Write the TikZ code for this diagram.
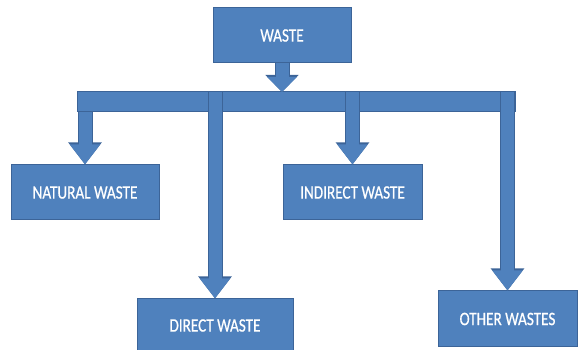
\documentclass[tikz,border=0pt]{standalone}
\usepackage{fontspec}
\newfontfamily\wastefont[FakeStretch=0.8,FakeBold=0.6]{Carlito}
\usetikzlibrary{arrows.meta}
\usepackage{xcolor}
\definecolor{WasteBlue}{RGB}{79,129,189}
\definecolor{WasteEdge}{RGB}{60,100,152}

\begin{document}
\begin{tikzpicture}[
x=1pt,y=1pt,
box/.style={rectangle,draw=WasteEdge,fill=WasteBlue,line width=1pt,
minimum height=55pt,inner sep=0pt,text=white,
font=\wastefont\fontsize{19}{22}\selectfont},
bar/.style={draw=WasteEdge,fill=WasteBlue,line width=1pt},
fat/.style={draw=WasteBlue,line width=13pt,-{Triangle[width=29pt,length=20pt]},
preaction={draw=WasteEdge,line width=15pt,-{Triangle[width=32pt,length=22pt]}}},
stub/.style={draw=WasteBlue,line width=13pt,-{Triangle[width=29pt,length=15pt]},
preaction={draw=WasteEdge,line width=15pt,-{Triangle[width=32pt,length=17pt]}}}
]
\useasboundingbox (0,0) rectangle (581,350);
\node[box,minimum width=138pt] (waste) at (282,314.5) {WASTE};
\node[box,minimum width=148pt] (natural) at (85,157.5) {NATURAL WASTE};
\node[box,minimum width=139pt] (indirect) at (352.5,157.5) {INDIRECT WASTE};
\node[box,minimum width=156pt,minimum height=53pt] (direct) at (215,24.5) {DIRECT WASTE};
\node[box,minimum width=139pt,minimum height=56pt] (other) at (507.5,31) {OTHER WASTES};
% the cross bar
\coordinate (barL) at (77,238);
\coordinate (barR) at (515,258);
\draw[bar] (barL) rectangle (barR);
\coordinate (hub) at (282,258);
\coordinate (natTop) at (85,238);
\coordinate (dirTop) at (215,258);
\coordinate (indTop) at (352.5,258);
\coordinate (othTop) at (507.5,258);
\draw[stub] (waste.south) -- (hub);
\draw[fat] (natTop) -- (natural.north);
\draw[fat] (dirTop) -- (direct.north);
\draw[fat] (indTop) -- (indirect.north);
\draw[fat] (othTop) -- (other.north);
\end{tikzpicture}
\end{document}
